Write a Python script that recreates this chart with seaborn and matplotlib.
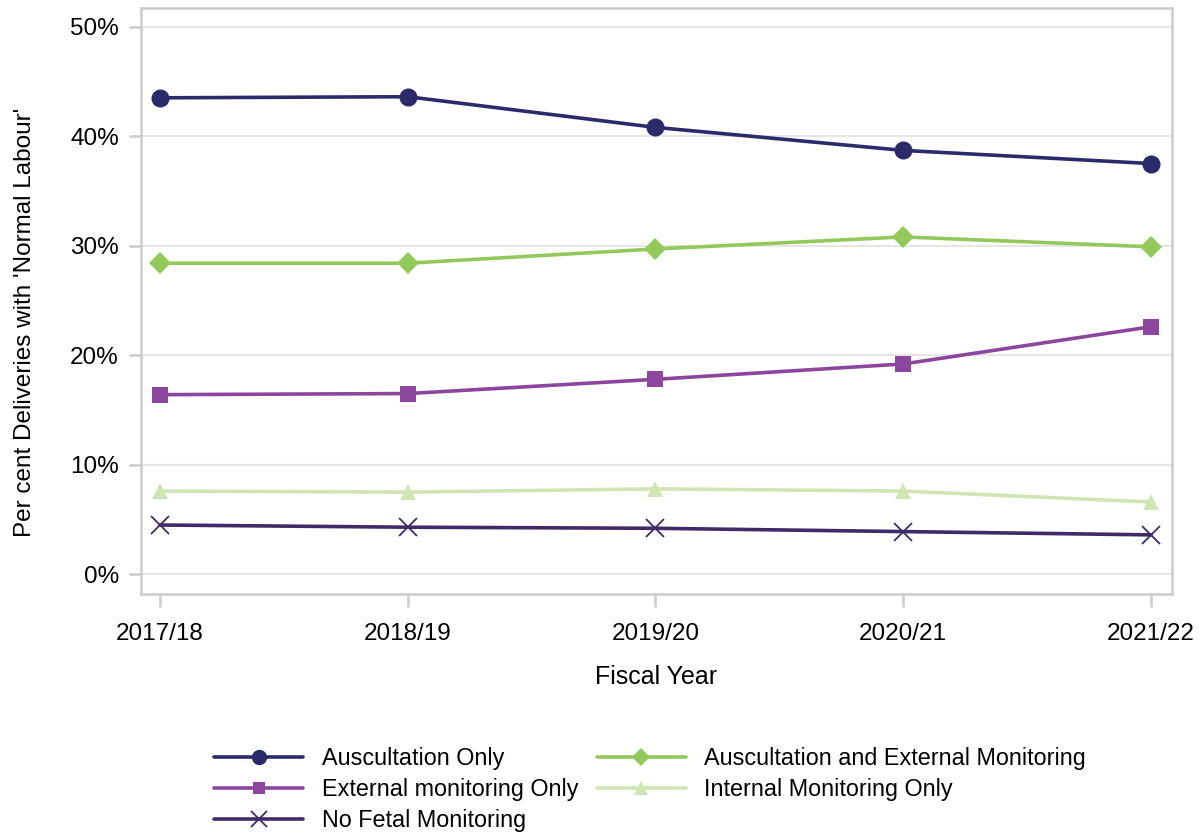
import matplotlib
matplotlib.use("Agg")
import matplotlib.pyplot as plt
import matplotlib.ticker as mtick
import pandas as pd
import seaborn as sns

years = ["2017/18", "2018/19", "2019/20", "2020/21", "2021/22"]
auscultation_only = [43.5, 43.6, 40.8, 38.7, 37.5]
ausc_and_external = [28.4, 28.4, 29.7, 30.8, 29.9]
external_only = [16.4, 16.5, 17.8, 19.2, 22.6]
internal_only = [7.6, 7.5, 7.8, 7.6, 6.6]
no_fetal = [4.5, 4.3, 4.2, 3.9, 3.6]

series = [
    ("Auscultation Only", auscultation_only, "#2b2b6b", "o", 13),
    ("External monitoring Only", external_only, "#8c469e", "s", 11),
    ("No Fetal Monitoring", no_fetal, "#402a68", "x", 13),
    ("Auscultation and External Monitoring", ausc_and_external, "#93c95b", "D", 11),
    ("Internal Monitoring Only", internal_only, "#cfe5b4", "^", 12),
]

sns.set_theme(style="white")
plt.rcParams["font.family"] = ["Liberation Sans", "DejaVu Sans"]
plt.rcParams["text.color"] = "black"
plt.rcParams["axes.labelcolor"] = "black"

fig = plt.figure(figsize=(12.02, 8.33), dpi=100)
ax = fig.add_axes([0.1173, 0.2869, 0.8577, 0.7035])

# plot in a layering order similar to reference
draw_order = [4, 2, 1, 3, 0]
for i in draw_order:
    name, vals, color, marker, ms = series[i]
    df = pd.DataFrame({"year": years, "pct": vals})
    df["x"] = range(len(years))
    kws = dict(markersize=ms, markeredgecolor=color, markerfacecolor=color)
    if marker == "x":
        kws["markeredgewidth"] = 1.3
    else:
        kws["markeredgewidth"] = 0
    sns.lineplot(data=df, x="x", y="pct", ax=ax, color=color, marker=marker,
                 linewidth=2.6, label=name, legend=False, **kws)

ax.set_xlim(-0.077, 4.085)
ax.set_ylim(-1.8, 51.7)
ax.set_xticks(range(len(years)))
ax.set_xticklabels(years)
ax.set_yticks([0, 10, 20, 30, 40, 50])
ax.yaxis.set_major_formatter(mtick.FuncFormatter(lambda v, p: f"{v:.0f}%"))
ax.grid(axis="y", color="#e6e6e6", linewidth=1.5)
ax.set_axisbelow(True)
for sp in ax.spines.values():
    sp.set_color("#cccccc")
    sp.set_linewidth(1.8)
ax.tick_params(axis="both", which="major", labelsize=17.5, colors="#cccccc",
               labelcolor="black", length=9, width=1.8, direction="out",
               left=True, bottom=True)
ax.tick_params(axis="x", pad=12)
ax.tick_params(axis="y", pad=7)
ax.set_xlabel("Fiscal Year", fontsize=18, labelpad=14)
ax.set_ylabel("Per cent Deliveries with 'Normal Labour'", fontsize=17.5)
ax.yaxis.set_label_coords(-0.102, 0.464)

handles, labels = ax.get_legend_handles_labels()
lookup = dict(zip(labels, handles))
order = [s[0] for s in series]
leg = fig.legend([lookup[n] for n in order], order, ncol=2, loc="center",
                 bbox_to_anchor=(0.541, 0.052), frameon=False, fontsize=16.8,
                 handlelength=3.8, columnspacing=0.8, labelspacing=0.33,
                 handletextpad=0.8, markerscale=0.85)

fig.savefig("out.png", dpi=100)
